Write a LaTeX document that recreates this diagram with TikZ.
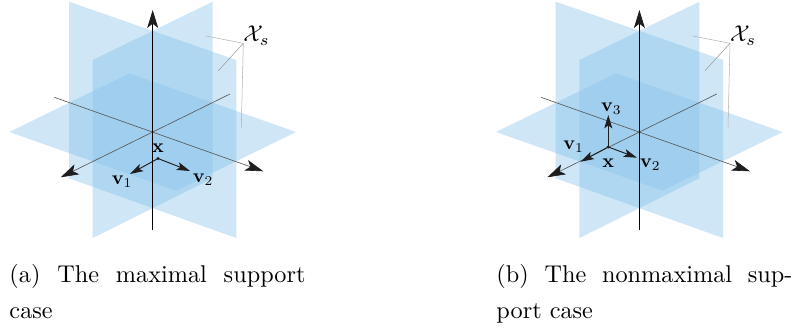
\documentclass[tikz,border=0pt]{standalone}
\usepackage{amsmath}
\usepackage{amssymb}
\usetikzlibrary{arrows.meta}
\definecolor{planeblue}{RGB}{132, 193, 233}
\definecolor{tipdark}{RGB}{30, 30, 30}
\newcommand{\drawplanes}[1]{
    % Three planes
    \fill[plane] (9.3,132) -- (129.3,73.3) -- (296,132) -- (176,190.7) -- cycle;
    \fill[plane] (69,1.7) -- (236.3,60) -- (236.3,238) -- (69,178.3) -- cycle;
    \fill[plane] (212.7,1.7) -- (92.7,60) -- (92.7,238) -- (212.7,178.3) -- cycle;

    % Axes
    \coordinate (#1zlow) at (152.7,230);
    \coordinate (#1ztop) at (152.7,10);
    \coordinate (#1xlow) at (54.3,97.3);
    \coordinate (#1xtop) at (263.3,171.3);
    \coordinate (#1ylow) at (230,94);
    \coordinate (#1ytop) at (60.7,177.3);
    \draw[axis] (#1xlow) -- (#1xtop);
    \draw[axis] (#1ylow) -- (#1ytop);
    \draw[axis, draw=black, line width=0.85pt] (#1zlow) -- (#1ztop);

    % Set label and its leaders
    \node[scale=1.95, font=\normalsize, inner sep=0pt] (#1set) at (256.5,35.5) {$\mathcal{X}_s$};
    \coordinate (#1join) at (243.3,43.3);
    \coordinate (#1leadA) at (206,36);
    \coordinate (#1leadB) at (218.3,70.7);
    \coordinate (#1leadC) at (241.3,127.7);
    \draw[leader] (#1leadA) -- (#1join);
    \draw[leader, draw=gray!80] (#1leadB) -- (#1join);
    \draw[leader] (#1leadC) -- (#1join);
}
\begin{document}
\begin{tikzpicture}[
        x=0.03cm, y=-0.03cm,
        plane/.style={fill=planeblue, fill opacity=0.4},
        axis/.style={draw=black!65, line width=0.55pt,
                     -{Stealth[length=0.54cm, width=0.33cm, inset=0.13cm, color=tipdark]}},
        leader/.style={draw=black!30, line width=0.45pt},
        vec/.style={draw=tipdark, line width=0.8pt,
                    -{Stealth[length=0.4cm, width=0.24cm, inset=0.09cm, color=tipdark]}},
        veclabel/.style={scale=1.65, font=\normalsize, inner sep=0pt},
        dot/.style={circle, fill=tipdark, inner sep=0pt, minimum size=0.1cm},
        caption/.style={scale=2.07, font=\fontsize{10}{14.84}\selectfont, anchor=base west,
                        inner sep=0pt, text width=4.29cm, align=justify}
    ]
    \useasboundingbox (0,0) rectangle (792,327);

    % Maximal support case
    \drawplanes{a}
    \node[dot] (adot) at (158,158.5) {};
    \node[veclabel] (ax) at (158,148) {$\mathbf{x}$};
    \node[veclabel] (av1) at (122,182) {$\mathbf{v}_1$};
    \node[veclabel] (av2) at (203,180) {$\mathbf{v}_2$};
    \coordinate (av1tip) at (130,174);
    \coordinate (av2tip) at (190,171);
    \draw[vec] (adot.center) -- (av1tip);
    \draw[vec] (adot.center) -- (av2tip);
    \node[caption] (acap) at (9,282.3) {(a) The maximal support case};

    % Nonmaximal support case
    \begin{scope}[xshift=14.6cm]
        \drawplanes{b}
        \node[dot] (bdot) at (121.6,147) {};
        \node[veclabel] (bx) at (121.6,162.7) {$\mathbf{x}$};
        \node[veclabel] (bv1) at (87,146.7) {$\mathbf{v}_1$};
        \node[veclabel] (bv2) at (163.6,165) {$\mathbf{v}_2$};
        \node[veclabel] (bv3) at (124.6,109) {$\mathbf{v}_3$};
        \coordinate (bv1tip) at (94,161.7);
        \coordinate (bv2tip) at (150.3,157.7);
        \coordinate (bv3tip) at (121.6,115);
        \draw[vec] (bdot.center) -- (bv1tip);
        \draw[vec] (bdot.center) -- (bv2tip);
        \draw[vec, line width=1.1pt] (bdot.center) -- (bv3tip);
        \node[caption] (bcap) at (9.3,282.3) {(b) The nonmaximal sup\-port case};
    \end{scope}
\end{tikzpicture}
\end{document}
